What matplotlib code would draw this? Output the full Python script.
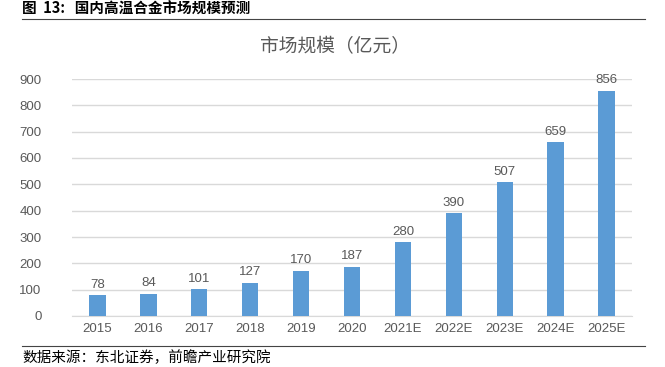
import matplotlib.pyplot as plt

plt.rcParams['font.family'] = ['Liberation Sans', 'Noto Sans CJK SC', 'DejaVu Sans']

# Data
years = ["2015", "2016", "2017", "2018", "2019", "2020",
         "2021E", "2022E", "2023E", "2024E", "2025E"]
market_size = [78, 84, 101, 127, 170, 187, 280, 390, 507, 659, 856]
yticks = [0, 100, 200, 300, 400, 500, 600, 700, 800, 900]

bar_color = "#5B9BD5"
text_gray = "#595959"
grid_gray = "#D9D9D9"

fig = plt.figure(figsize=(6.65, 3.67), dpi=100)
ax = fig.add_axes([72/665, 1 - 316/367, 560/665, 237/367])

x = range(len(years))
bars = ax.bar(x, market_size, width=0.32, color=bar_color, zorder=3)
for xi, v in zip(x, market_size):
    ax.text(xi, v + 18, str(v), ha="center", va="bottom",
            fontsize=9.5, color=text_gray)

ax.set_xlim(-0.5, len(years) - 0.5)
ax.set_ylim(0, 900)
ax.set_yticks(yticks)
ax.set_xticks(list(x))
ax.set_xticklabels(years)
ax.tick_params(axis="both", length=0, labelsize=9.5, labelcolor=text_gray)
ax.tick_params(axis="y", pad=22)
ax.tick_params(axis="x", pad=5)
ax.grid(axis="y", color=grid_gray, linewidth=1, zorder=0)
for s in ["top", "right", "left"]:
    ax.spines[s].set_visible(False)
ax.spines["bottom"].set_color(grid_gray)

# Chart title
fig.text(335/665, 1 - 47/367, "市场规模（亿元）", ha="center", va="center",
         fontsize=13.5, color=text_gray, family=["Noto Sans CJK SC"])

# Figure caption and source
fig.text(22/665, 1 - 9/367, "图  13:   国内高温合金市场规模预测", ha="left", va="center",
         fontsize=10.5, fontweight="bold", color="black",
         family=["Noto Sans CJK SC", "DejaVu Sans"])
fig.add_artist(plt.Line2D([22/665, 645/665], [1 - 19/367, 1 - 19/367],
                          color="#444444", linewidth=0.8))
fig.add_artist(plt.Line2D([22/665, 645/665], [1 - 346/367, 1 - 346/367],
                          color="#444444", linewidth=0.8))
fig.text(22/665, 1 - 358/367, "数据来源：东北证券，前瞻产业研究院", ha="left", va="center",
         fontsize=10.5, color="black", family=["Noto Sans CJK SC", "DejaVu Sans"])

fig.savefig("out.png", dpi=100)
